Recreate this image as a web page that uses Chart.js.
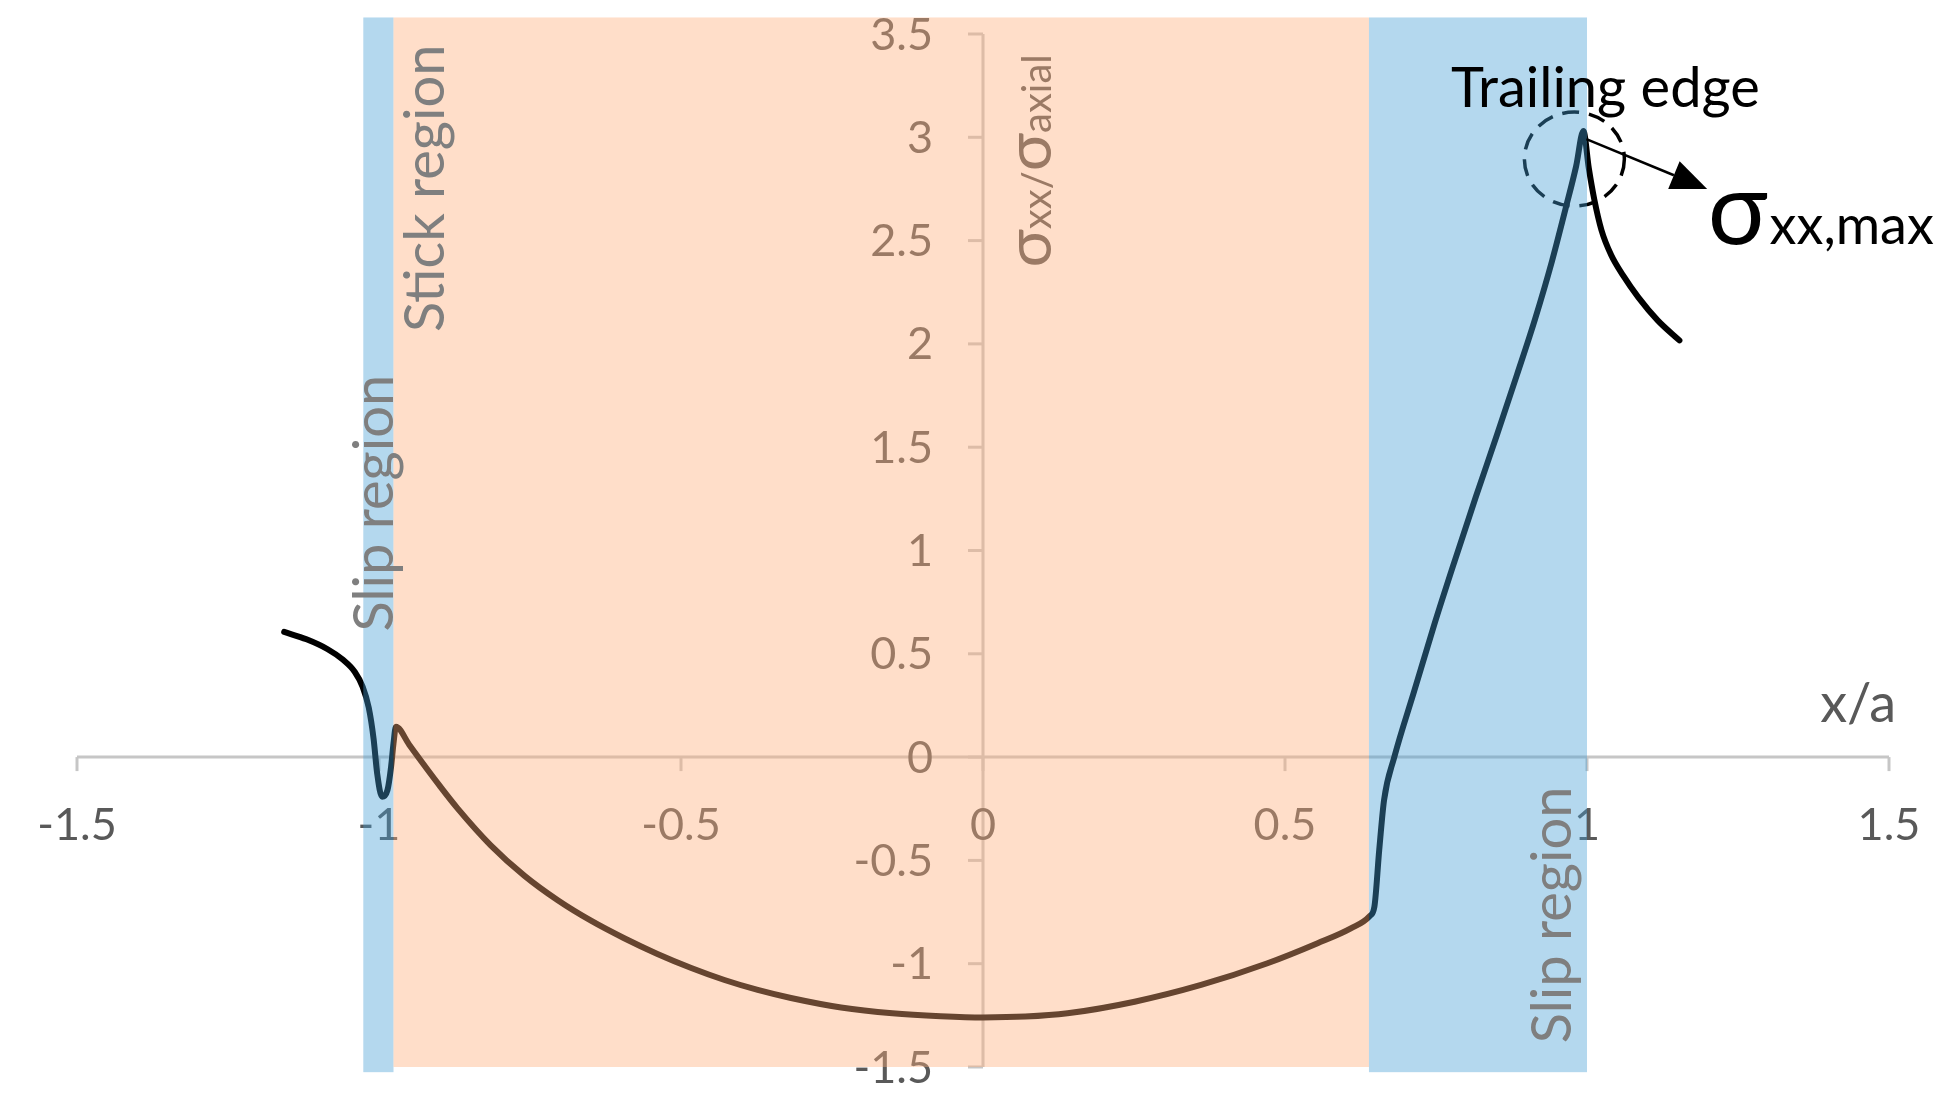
<!DOCTYPE html>
<html>
<head>
<meta charset="utf-8">
<script src="https://cdn.jsdelivr.net/npm/chart.js@4.4.1/dist/chart.umd.min.js"></script>
<style>
  html, body { margin: 0; padding: 0; background: #ffffff; }
  #wrap { width: 1959px; height: 1108px; position: relative; }
</style>
</head>
<body>
<div id="wrap"><canvas id="c" width="1959" height="1108"></canvas></div>
<script>
// ---------------- data ----------------
const xTicks = [-1.5, -1, -0.5, 0, 0.5, 1, 1.5];
const xTickLabels = ['-1.5', '-1', '-0.5', '0', '0.5', '1', '1.5'];
const yTicks = [3.5, 3, 2.5, 2, 1.5, 1, 0.5, 0, -0.5, -1, -1.5];
const yTickLabels = ['3.5', '3', '2.5', '2', '1.5', '1', '0.5', '0', '-0.5', '-1', '-1.5'];

// normalised position x/a
const xOverA = [
  -1.157, -1.120, -1.085, -1.060, -1.040, -1.027, -1.017, -1.009, -1.003, -0.995,
  -0.986, -0.980, -0.976, -0.972, -0.950, -0.930, -0.900, -0.870,
  -0.815, -0.759, -0.704, -0.649, -0.594, -0.539, -0.483, -0.428, -0.373, -0.318,
  -0.235, -0.150, -0.070, 0.000, 0.070, 0.140, 0.251, 0.361, 0.471, 0.554,
  0.609, 0.640, 0.648, 0.656, 0.664, 0.681, 0.714, 0.747, 0.781, 0.816,
  0.851, 0.884, 0.914, 0.942, 0.965, 0.982, 0.994, 1.003, 1.012, 1.024,
  1.040, 1.060, 1.085, 1.117, 1.153
];
// stress ratio sigma_xx / sigma_axial
const stressRatio = [
  0.606, 0.570, 0.522, 0.472, 0.412, 0.340, 0.240, 0.090, -0.080, -0.192,
  -0.160, -0.047, 0.066, 0.147, 0.060, -0.020, -0.137, -0.248,
  -0.427, -0.575, -0.693, -0.792, -0.877, -0.953, -1.021, -1.079, -1.127, -1.166,
  -1.212, -1.240, -1.254, -1.260, -1.256, -1.240, -1.184, -1.103, -0.998, -0.901,
  -0.829, -0.770, -0.724, -0.450, -0.208, 0.000, 0.320, 0.640, 0.950, 1.260,
  1.560, 1.850, 2.120, 2.400, 2.660, 2.860, 3.030, 2.850, 2.700, 2.550,
  2.430, 2.330, 2.225, 2.114, 2.017
];

// contact regions (x/a limits)
const regionNames = ['Slip region', 'Stick region', 'Slip region'];
const regionStart = [-1.026, -0.976, 0.639];
const regionEnd = [-0.976, 0.639, 1.0];
const regionKind = ['slip', 'stick', 'slip'];

// annotation texts
const peakLabel = 'Trailing edge';
const maxLabelMain = 'σ';
const maxLabelSub = 'xx,max';
const xTitle = 'x/a';
// ---------------------------------------

const FONT = 'Lato, "Open Sans", sans-serif';
const AXIS_COLOR = '#c6c6c6';
const TICK_TEXT = '#595959';

function font(size) { return size + 'px ' + FONT; }

const axesPlugin = {
  id: 'centeredAxes',
  beforeDatasetsDraw(chart) {
    const { ctx, scales: { x, y } } = chart;
    const x0 = x.getPixelForValue(0);
    const y0 = y.getPixelForValue(0);
    ctx.save();
    ctx.strokeStyle = AXIS_COLOR;
    ctx.lineWidth = 3;
    // x axis
    ctx.beginPath();
    ctx.moveTo(x.getPixelForValue(xTicks[0]), y0);
    ctx.lineTo(x.getPixelForValue(xTicks[xTicks.length - 1]), y0);
    ctx.stroke();
    xTicks.forEach(v => {
      const px = x.getPixelForValue(v);
      ctx.beginPath(); ctx.moveTo(px, y0); ctx.lineTo(px, y0 + 14); ctx.stroke();
    });
    // y axis
    ctx.beginPath();
    ctx.moveTo(x0, y.getPixelForValue(yTicks[0]));
    ctx.lineTo(x0, y.getPixelForValue(yTicks[yTicks.length - 1]));
    ctx.stroke();
    yTicks.forEach(v => {
      const py = y.getPixelForValue(v);
      ctx.beginPath(); ctx.moveTo(x0 - 15, py); ctx.lineTo(x0, py); ctx.stroke();
    });
    // tick labels
    ctx.fillStyle = TICK_TEXT;
    ctx.font = font(45);
    ctx.textAlign = 'center';
    ctx.textBaseline = 'alphabetic';
    xTicks.forEach((v, i) => {
      ctx.fillText(xTickLabels[i], x.getPixelForValue(v), y0 + 83);
    });
    ctx.textAlign = 'right';
    ctx.textBaseline = 'middle';
    yTicks.forEach((v, i) => {
      ctx.fillText(yTickLabels[i], x0 - 50, y.getPixelForValue(v) + 1);
    });
    // y title (rotated, mixed sizes)
    ctx.save();
    ctx.translate(x0 + 68, y.getPixelForValue(2.37));
    ctx.rotate(-Math.PI / 2);
    ctx.textAlign = 'left';
    ctx.textBaseline = 'alphabetic';
    const parts = [['σ', 64], ['xx/', 40], ['σ', 64], ['axial', 40]];
    let cx = 0;
    parts.forEach(([t, s]) => {
      ctx.font = font(s);
      ctx.fillText(t, cx, 0);
      cx += ctx.measureText(t).width;
    });
    ctx.restore();
    ctx.restore();
  },
  afterDatasetsDraw(chart) {
    const { ctx, scales: { x, y } } = chart;
    const peakIdx = stressRatio.indexOf(Math.max(...stressRatio));
    const px = x.getPixelForValue(xOverA[peakIdx]);
    const py = y.getPixelForValue(stressRatio[peakIdx]);
    ctx.save();
    // dashed ellipse around the peak
    ctx.strokeStyle = '#000';
    ctx.lineWidth = 3.5;
    ctx.setLineDash([17, 10]);
    ctx.beginPath();
    ctx.ellipse(px - 9, py + 28, 50, 47, 0, 0, Math.PI * 2);
    ctx.stroke();
    ctx.setLineDash([]);
    // translucent region bands
    const top = y.getPixelForValue(3.58);
    regionKind.forEach((k, i) => {
      const l = x.getPixelForValue(regionStart[i]);
      const r = x.getPixelForValue(regionEnd[i]);
      const bottom = k === 'slip' ? y.getPixelForValue(-1.525) : y.getPixelForValue(-1.5);
      ctx.fillStyle = k === 'slip' ? 'rgba(67,157,212,0.4)' : 'rgba(255,172,120,0.4)';
      ctx.fillRect(l, top, r - l, bottom - top);
    });
    ctx.restore();
  },
  afterDraw(chart) {
    const { ctx, scales: { x, y } } = chart;
    ctx.save();
    // region labels (rotated)
    const labelPos = [[-1.007, 1.229], [-0.922, 2.753], [0.944, -0.764]];
    ctx.fillStyle = '#7f7f7f';
    ctx.font = font(56);
    regionNames.forEach((n, i) => {
      ctx.save();
      ctx.translate(x.getPixelForValue(labelPos[i][0]), y.getPixelForValue(labelPos[i][1]));
      ctx.rotate(-Math.PI / 2);
      ctx.textAlign = 'center';
      ctx.textBaseline = 'middle';
      ctx.fillText(n, 0, 0);
      ctx.restore();
    });
    // x title
    ctx.fillStyle = TICK_TEXT;
    ctx.font = font(54);
    ctx.textAlign = 'left';
    ctx.textBaseline = 'alphabetic';
    ctx.fillText(xTitle, x.getPixelForValue(1.386), y.getPixelForValue(0.169));
    // trailing edge annotation
    ctx.fillStyle = '#000';
    ctx.font = font(56);
    ctx.fillText(peakLabel, x.getPixelForValue(0.775), y.getPixelForValue(3.145));
    // arrow
    const peakIdx = stressRatio.indexOf(Math.max(...stressRatio));
    const ax = x.getPixelForValue(xOverA[peakIdx]) + 3;
    const ay = y.getPixelForValue(stressRatio[peakIdx]) + 8;
    const tx = x.getPixelForValue(1.199);
    const ty = y.getPixelForValue(2.75);
    const ang = Math.atan2(ty - ay, tx - ax);
    const hl = 36, hw = 15;
    const bx = tx - hl * Math.cos(ang), by = ty - hl * Math.sin(ang);
    ctx.strokeStyle = '#000';
    ctx.lineWidth = 2.5;
    ctx.beginPath(); ctx.moveTo(ax, ay); ctx.lineTo(bx, by); ctx.stroke();
    ctx.beginPath();
    ctx.moveTo(tx, ty);
    ctx.lineTo(bx + hw * Math.sin(ang), by - hw * Math.cos(ang));
    ctx.lineTo(bx - hw * Math.sin(ang), by + hw * Math.cos(ang));
    ctx.closePath();
    ctx.fill();
    // sigma_xx,max
    ctx.font = font(100);
    const sx = x.getPixelForValue(1.200);
    const sy = y.getPixelForValue(2.482);
    ctx.fillText(maxLabelMain, sx, sy);
    const sw = ctx.measureText(maxLabelMain).width;
    ctx.font = font(54);
    ctx.fillText(maxLabelSub, sx + sw + 2, sy);
    ctx.restore();
  }
};

const points = xOverA.map((v, i) => ({ x: v, y: stressRatio[i] }));

new Chart(document.getElementById('c').getContext('2d'), {
  type: 'scatter',
  data: {
    datasets: [{
      data: points,
      showLine: true,
      borderColor: '#000000',
      borderWidth: 6,
      pointRadius: 0,
      cubicInterpolationMode: 'monotone',
      borderCapStyle: 'round',
      borderJoinStyle: 'round',
      clip: false
    }]
  },
  options: {
    responsive: false,
    animation: false,
    devicePixelRatio: 1,
    layout: { padding: { left: 77, right: 70, top: 34, bottom: 41 } },
    scales: {
      x: { type: 'linear', min: -1.5, max: 1.5, display: false },
      y: { type: 'linear', min: -1.5, max: 3.5, display: false }
    },
    plugins: { legend: { display: false }, tooltip: { enabled: false } },
    events: []
  },
  plugins: [axesPlugin]
});
</script>
</body>
</html>
